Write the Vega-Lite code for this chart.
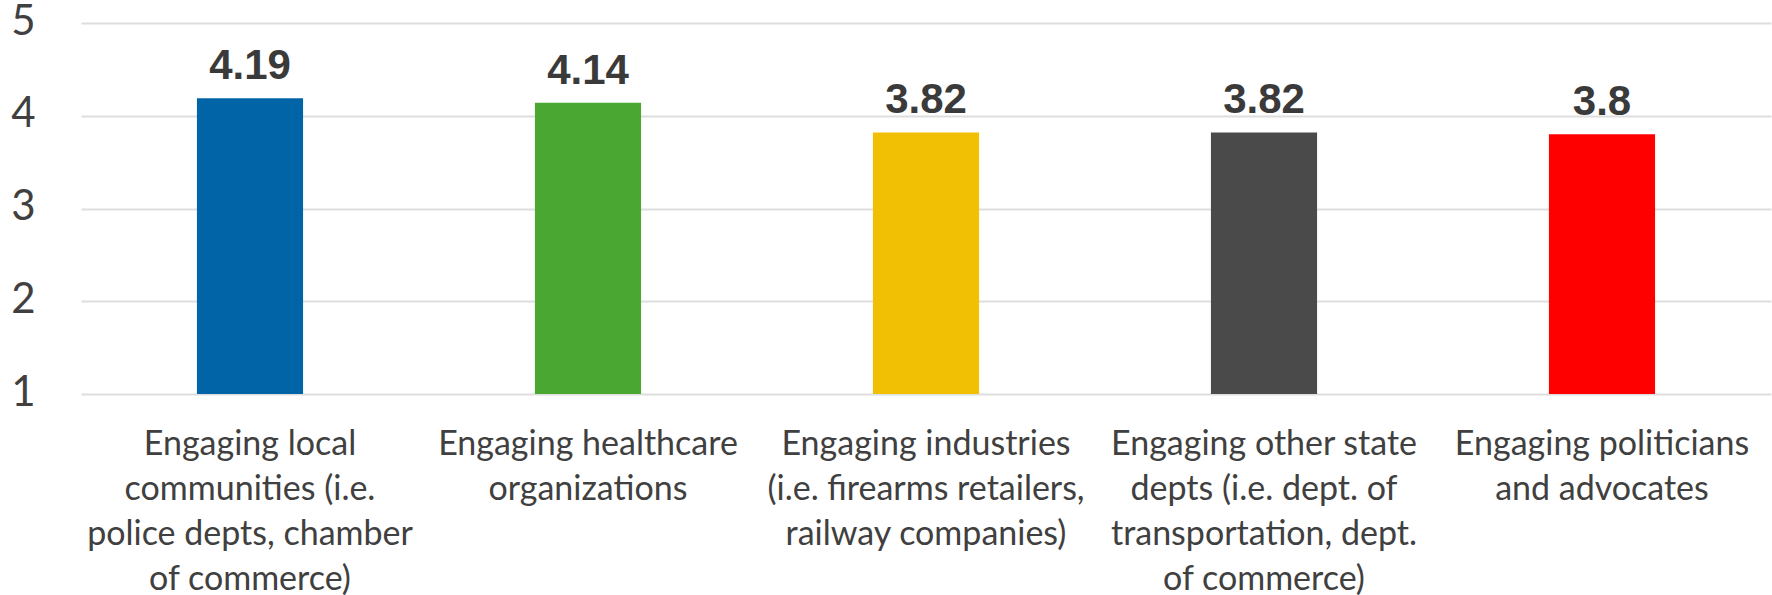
{
  "$schema": "https://vega.github.io/schema/vega-lite/v6.json",
  "autosize": {"type": "none"},
  "width": 1690,
  "height": 371,
  "padding": {"left": 81, "top": 23, "right": 1, "bottom": 201},
  "background": "white",
  "config": {"view": {"stroke": null}},
  "data": {
    "values": [
      {"category": "Engaging local|communities (i.e.|police depts, chamber|of commerce)", "value": 4.19, "color": "#0064A6"},
      {"category": "Engaging healthcare|organizations", "value": 4.14, "color": "#4AA832"},
      {"category": "Engaging industries|(i.e. firearms retailers,|railway companies)", "value": 3.82, "color": "#F1C005"},
      {"category": "Engaging other state|depts (i.e. dept. of|transportation, dept.|of commerce)", "value": 3.82, "color": "#4A4A4A"},
      {"category": "Engaging politicians|and advocates", "value": 3.8, "color": "#FF0000"}
    ]
  },
  "encoding": {
    "x": {
      "field": "category",
      "type": "nominal",
      "sort": null,
      "scale": {"paddingInner": 0.686, "paddingOuter": 0.343},
      "axis": {
        "title": null,
        "domain": false,
        "ticks": false,
        "labelAngle": 0,
        "labelExpr": "split(datum.label, '|')",
        "labelFont": "Lato",
        "labelFontSize": 34,
        "labelColor": "#404040",
        "labelLineHeight": 45,
        "labelBaseline": "alphabetic",
        "labelPadding": 60,
        "labelLimit": 0
      }
    }
  },
  "layer": [
    {
      "mark": {"type": "bar"},
      "encoding": {
        "y": {
          "field": "value",
          "type": "quantitative",
          "scale": {"domain": [1, 5], "nice": false, "zero": false},
          "axis": {
            "title": null,
            "values": [1, 2, 3, 4, 5],
            "format": "d",
            "domain": false,
            "ticks": false,
            "grid": true,
            "gridColor": "#DEDEDE",
            "gridWidth": 2,
            "labelFont": "Lato",
            "labelFontSize": 42,
            "labelColor": "#404040",
            "labelPadding": 46,
            "labelOffset": -2
          }
        },
        "y2": {"datum": 1},
        "color": {"field": "color", "type": "nominal", "scale": null, "legend": null}
      }
    },
    {
      "mark": {"type": "text", "dy": -19, "baseline": "alphabetic", "font": "Liberation Sans", "fontSize": 42, "fontWeight": "bold", "color": "#3A3A3A"},
      "encoding": {
        "y": {"field": "value", "type": "quantitative"},
        "text": {"field": "value", "type": "quantitative"}
      }
    }
  ]
}
